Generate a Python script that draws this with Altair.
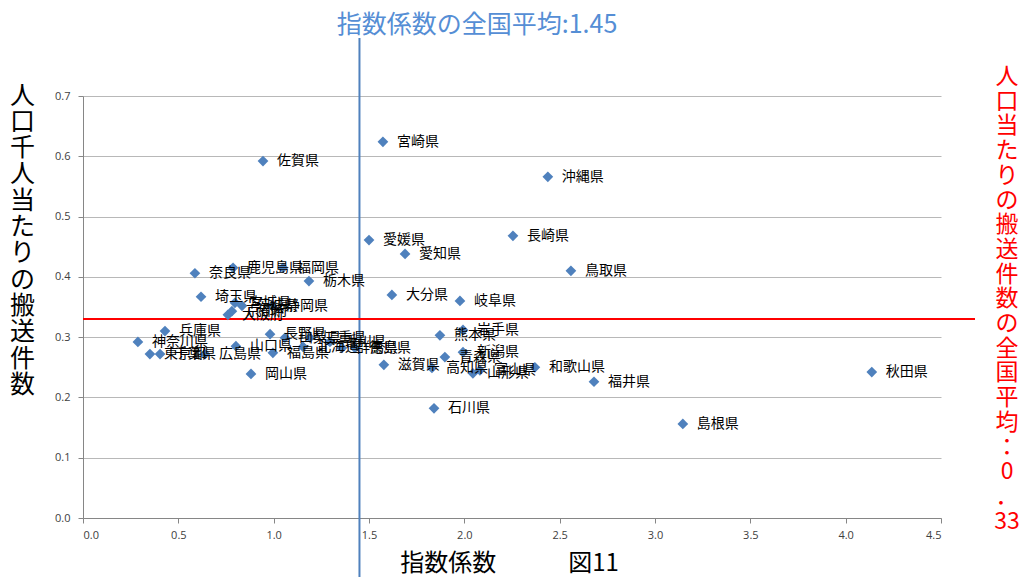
import altair as alt
import pandas as pd

# Prefecture, index coefficient (x) and transports per 1,000 people (y)
prefectures = [
    "宮崎県", "佐賀県", "沖縄県", "長崎県", "愛媛県", "愛知県", "鳥取県", "奈良県",
    "鹿児島県", "福岡県", "栃木県", "大分県", "岐阜県", "埼玉県", "宮城県", "静岡県",
    "大阪府", "兵庫県", "神奈川県", "東京都", "千葉県", "山口県", "広島県", "岡山県",
    "福島県", "石川県", "島根県", "秋田県", "福井県", "和歌山県", "山形県", "熊本県",
    "岩手県", "新潟県", "高知県", "滋賀県", "京都府", "茨城県", "山梨県", "長野県",
    "三重県", "香川県", "北海道", "群馬県", "徳島県", "富山県", "青森県",
]
index_coef = [
    1.573, 0.944, 2.438, 2.255, 1.500, 1.689, 2.559, 0.587,
    0.787, 1.049, 1.185, 1.620, 1.977, 0.619, 0.797, 0.991,
    0.760, 0.430, 0.288, 0.351, 0.404, 0.802, 0.640, 0.881,
    0.996, 1.841, 3.146, 4.137, 2.680, 2.370, 2.045, 1.872,
    1.993, 1.993, 1.830, 1.578, 0.781, 0.834, 1.059, 0.981,
    1.190, 1.295, 1.154, 1.358, 1.426, 2.082, 1.898,
]
per_thousand = [
    0.624, 0.592, 0.566, 0.468, 0.461, 0.438, 0.410, 0.406,
    0.415, 0.415, 0.393, 0.370, 0.360, 0.367, 0.357, 0.352,
    0.337, 0.310, 0.292, 0.272, 0.272, 0.285, 0.272, 0.239,
    0.274, 0.182, 0.156, 0.242, 0.226, 0.250, 0.240, 0.303,
    0.312, 0.275, 0.249, 0.254, 0.343, 0.352, 0.299, 0.305,
    0.299, 0.292, 0.284, 0.282, 0.282, 0.245, 0.267,
]

# National averages
avg_index = 1.45
avg_per_thousand = 0.33

x_ticks = [0.0, 0.5, 1.0, 1.5, 2.0, 2.5, 3.0, 3.5, 4.0, 4.5]
y_ticks = [0.0, 0.1, 0.2, 0.3, 0.4, 0.5, 0.6, 0.7]

y_title = list("人口千人当たりの搬送件数")
right_note = list("人口当たりの搬送件数の全国平均：") + ["0", "．", "33"]
top_note = f"指数係数の全国平均:{avg_index}"

df = pd.DataFrame({"pref": prefectures, "x": index_coef, "y": per_thousand})

W, H = 858, 422
JP = "Noto Sans CJK JP"
BLUE = "#4f81bd"

x_scale = alt.Scale(domain=[0, 4.5], nice=False, zero=False)
y_scale = alt.Scale(domain=[0, 0.7], nice=False)

base = alt.Chart(df)

points = base.mark_point(shape="diamond", filled=True, size=115, color=BLUE, opacity=1).encode(
    x=alt.X(
        "x:Q", scale=x_scale,
        axis=alt.Axis(
            values=x_ticks, format=".1f", grid=False,
            domainColor="#868686", tickColor="#868686", tickSize=5,
            labelFont="Open Sans", labelFontSize=11, labelColor="#404040", labelPadding=6,
            title="指数係数　　　図11", titleFont=JP, titleFontSize=24, titleFontWeight="normal",
            titleColor="#000000", titleBaseline="middle", titleY=45, titleX=W / 2 - 3,
        ),
    ),
    y=alt.Y(
        "y:Q", scale=y_scale,
        axis=alt.Axis(
            values=y_ticks, format=".1f", grid=True, gridColor="#b8b8b8", gridWidth=1,
            domainColor="#868686", tickColor="#868686", tickSize=5,
            labelFont="Open Sans", labelFontSize=11, labelColor="#404040", labelPadding=8,
            title=y_title, titleFont=JP, titleFontSize=25, titleFontWeight="normal",
            titleColor="#000000", titleAngle=0, titleAlign="center", titleBaseline="top",
            titleLineHeight=26.3, titleX=-61, titleY=-13,
        ),
    ),
)

labels = base.mark_text(align="left", baseline="middle", dx=14, fontSize=14, font=JP, color="#000000").encode(
    x=alt.X("x:Q", scale=x_scale), y=alt.Y("y:Q", scale=y_scale), text="pref:N"
)

vline = alt.Chart(pd.DataFrame({"v": [avg_index]})).mark_rule(color=BLUE, strokeWidth=2, clip=False).encode(
    x=alt.X("v:Q", scale=x_scale), y=alt.value(-58), y2=alt.value(H + 60)
)

hline = alt.Chart(pd.DataFrame({"v": [avg_per_thousand]})).mark_rule(color="#ff0000", strokeWidth=2, clip=False).encode(
    y=alt.Y("v:Q", scale=y_scale), x=alt.value(0), x2=alt.value(W + 34)
)

top_text = alt.Chart(pd.DataFrame({"t": [top_note]})).mark_text(
    font=JP, fontSize=25, color="#558ed5", align="center", baseline="middle"
).encode(x=alt.value(394), y=alt.value(-71), text="t:N")

right_text = alt.Chart(pd.DataFrame({"t": [0]})).mark_text(
    text=right_note, font=JP, fontSize=23, lineHeight=24.7, color="#ff0000",
    align="center", baseline="top"
).encode(x=alt.value(924), y=alt.value(-30))

chart = alt.layer(vline, hline, points, labels, top_text, right_text).properties(
    width=W, height=H,
    autosize=alt.AutoSizeParams(type="none"),
    padding={"left": 83, "top": 96, "right": 83, "bottom": 59},
    background="#ffffff",
).configure_view(stroke=None)

chart.save("out.html", embed_options={"renderer": "svg", "actions": False})
